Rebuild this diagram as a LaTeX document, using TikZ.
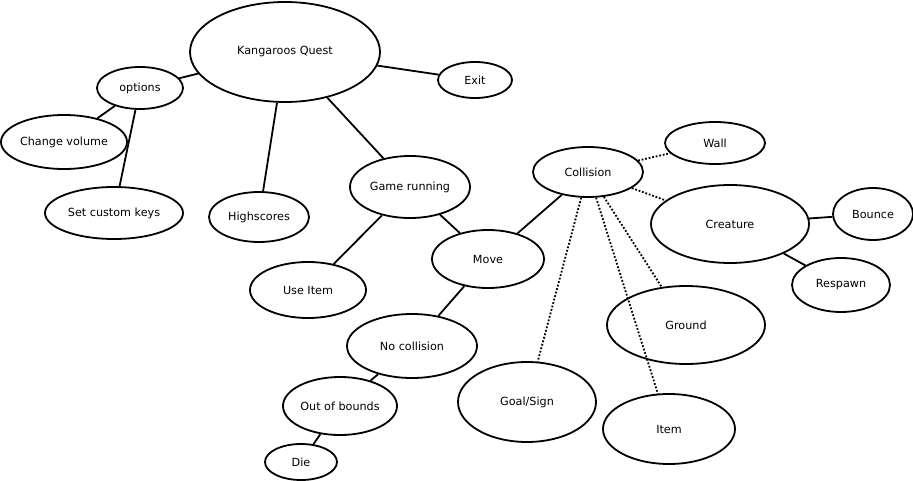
\documentclass[tikz,border=0pt]{standalone}
\usepackage{fontspec}
\setmainfont{DejaVu Sans}
\usetikzlibrary{positioning}
\usetikzlibrary{shapes.geometric}

\begin{document}
\begin{tikzpicture}
		[x=1pt,y=-1pt,
		main node/.style={shape=ellipse,draw,line width=1.8pt,inner sep=0pt,
			font=\fontsize{11.2}{13}\selectfont},
		link/.style={line width=1.8pt},
		maybe/.style={line width=1.8pt,dash pattern=on 1.8pt off 1.8pt}
		]
		\useasboundingbox (0,0) rectangle (913,481);
		
		\node [main node,minimum width=190,minimum height=100] (kq) at (285,52) {Kangaroos Quest};
		\node [main node,minimum width=86,minimum height=42] (opt) at (140,88) {options};
		\node [main node,minimum width=126,minimum height=54] (vol) at (64,142) {Change volume};
		\node [main node,minimum width=138,minimum height=52] (keys) at (114,213) {Set custom keys};
		\node [main node,minimum width=100,minimum height=50] (hs) at (259,217) {Highscores};
		\node [main node,minimum width=74,minimum height=36] (exit) at (475,80) {Exit};
		
		\node [main node,minimum width=120,minimum height=62] (run) at (410,187) {Game running};
		\node [main node,minimum width=116,minimum height=56] (use) at (308,290) {Use Item};
		\node [main node,minimum width=112,minimum height=58] (move) at (488,259) {Move};
		\node [main node,minimum width=130,minimum height=64] (nocoll) at (412,346) {No collision};
		\node [main node,minimum width=114,minimum height=58] (oob) at (340,406) {Out of bounds};
		\node [main node,minimum width=72,minimum height=36] (die) at (301,462) {Die};
		
		\node [main node,minimum width=110,minimum height=50] (coll) at (588,172) {Collision};
		\node [main node,minimum width=100,minimum height=42] (wall) at (715,143) {Wall};
		\node [main node,minimum width=158,minimum height=78] (crea) at (730,224) {Creature};
		\node [main node,minimum width=80,minimum height=52] (bnc) at (873,214) {Bounce};
		\node [main node,minimum width=98,minimum height=54] (resp) at (841,285) {Respawn};
		\node [main node,minimum width=158,minimum height=78] (gnd) at (686,325) {Ground};
		\node [main node,minimum width=138,minimum height=80] (goal) at (527,402) {Goal/Sign};
		\node [main node,minimum width=132,minimum height=70] (item) at (669,429) {Item};
		
		\path[link]
		(kq) edge (opt)
		(kq) edge (exit)
		(kq) edge (hs)
		(kq) edge (run)
		(opt) edge (vol)
		(opt) edge (keys)
		(run) edge (use)
		(run) edge (move)
		(move) edge (coll)
		(move) edge (nocoll)
		(nocoll) edge (oob)
		(oob) edge (die)
		(crea) edge (bnc)
		(crea) edge (resp)
		;
		
		\path[maybe]
		(coll) edge (wall)
		(coll) edge (crea)
		(coll) edge (goal)
		(coll) edge (item)
		(coll) edge (gnd)
		;
		
		\end{tikzpicture}
\end{document}
